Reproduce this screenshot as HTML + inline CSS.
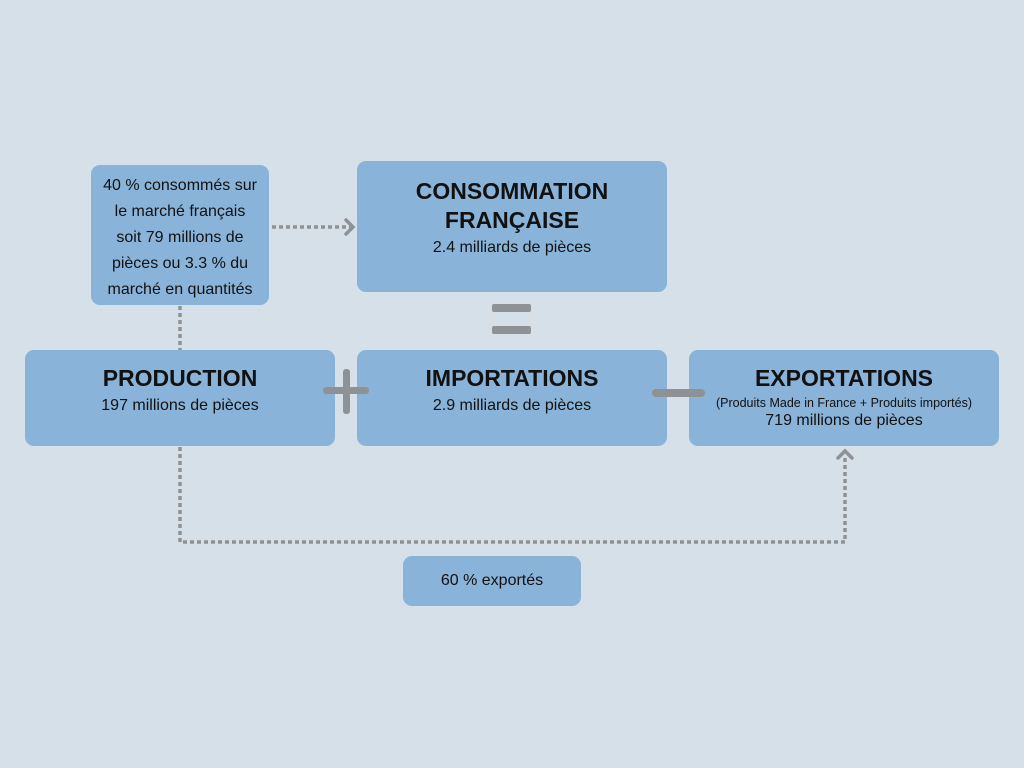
<!DOCTYPE html>
<html><head><meta charset="utf-8"><style>
body{margin:0;width:1024px;height:768px;background:#d5e0e9;position:relative;overflow:hidden;font-family:"Liberation Sans",sans-serif;color:#111}
.b{position:absolute;background:#89b3d8;border-radius:9px;text-align:center}
.t{font-weight:bold;font-size:23px;line-height:29px}
.s{font-size:16px;line-height:20px}
</style></head><body>
<svg width="1024" height="768" style="position:absolute;left:0;top:0">
<g stroke="#8f9295" stroke-width="3.5" fill="none" stroke-dasharray="4 3">
<line x1="272" y1="227" x2="352" y2="227"/>
<line x1="180" y1="306" x2="180" y2="350"/>
<polyline points="180,447 180,542 845,542 845,455"/>
</g>
<g stroke="#8f9295" stroke-width="3.5" fill="none" stroke-linecap="round">
<polyline points="346,220 353,227 346,234"/>
<polyline points="838,458 845,451 852,458"/>
</g>
<g fill="#8f9295">
<rect x="492" y="304" width="39" height="8" rx="2"/>
<rect x="492" y="326" width="39" height="8" rx="2"/>
</g>
</svg>
<div class="b s" style="left:91px;top:165px;width:178px;height:140px;padding-top:8px;box-sizing:border-box;line-height:26px;font-size:16px">40 % consommés sur<br>le marché français<br>soit 79 millions de<br>pièces ou 3.3 % du<br>marché en quantités</div>
<div class="b" style="left:357px;top:161px;width:310px;height:131px;padding-top:16px;box-sizing:border-box"><div class="t">CONSOMMATION<br>FRANÇAISE</div><div class="s" style="margin-top:3px">2.4 milliards de pièces</div></div>
<div class="b" style="left:25px;top:350px;width:310px;height:96px;padding-top:14px;box-sizing:border-box"><div class="t">PRODUCTION</div><div class="s" style="margin-top:3px">197 millions de pièces</div></div>
<div class="b" style="left:357px;top:350px;width:310px;height:96px;padding-top:14px;box-sizing:border-box"><div class="t">IMPORTATIONS</div><div class="s" style="margin-top:3px">2.9 milliards de pièces</div></div>
<div class="b" style="left:689px;top:350px;width:310px;height:96px;padding-top:14px;box-sizing:border-box"><div class="t">EXPORTATIONS</div><div style="font-size:12.5px;line-height:16px;margin-top:2px;white-space:nowrap">(Produits Made in France + Produits importés)</div><div class="s">719 millions de pièces</div></div>
<div class="b s" style="left:403px;top:556px;width:178px;height:50px;line-height:50px">60 % exportés</div>
<svg width="1024" height="768" style="position:absolute;left:0;top:0">
<g fill="#8f9295">
<rect x="323" y="387" width="46" height="7" rx="3"/>
<rect x="343" y="369" width="7" height="45" rx="3"/>
<rect x="652" y="389" width="53" height="8" rx="4"/>
</g>
</svg>
</body></html>
